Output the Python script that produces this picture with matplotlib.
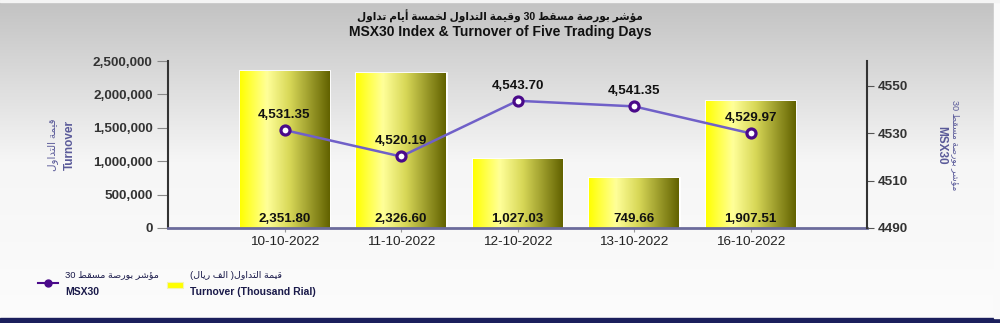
import matplotlib.pyplot as plt
import numpy as np
from matplotlib.ticker import FuncFormatter, FixedLocator
from matplotlib.colors import LinearSegmentedColormap
from matplotlib.lines import Line2D
from matplotlib.patches import Rectangle

dates = ['10-10-2022', '11-10-2022', '12-10-2022', '13-10-2022', '16-10-2022']
turnover = [2351.80, 2326.60, 1027.03, 749.66, 1907.51]   # thousand rial
msx30 = [4531.35, 4520.19, 4543.70, 4541.35, 4529.97]
left_ticks = [0, 500000, 1000000, 1500000, 2000000, 2500000]
right_ticks = [4490, 4510, 4530, 4550]

title_ar = 'مؤشر بورصة مسقط 30 وقيمة التداول لخمسة أيام تداول'
title_en = 'MSX30 Index & Turnover of Five Trading Days'
ylab_left_ar = 'قيمة التداول'
ylab_right_ar = 'مؤشر بورصة مسقط 30'
leg_line_ar = 'مؤشر بورصة مسقط 30'
leg_bar_ar = 'قيمة التداول( الف ريال)'
leg_en = ['MSX30', 'Turnover (Thousand Rial)']

# arabic presentation forms: isolated, final, initial, medial
FORMS = {
    'ا': ('\uFE8D', '\uFE8E', None, None),
    'أ': ('\uFE83', '\uFE84', None, None),
    'ؤ': ('\uFE85', '\uFE86', None, None),
    'ة': ('\uFE93', '\uFE94', None, None),
    'د': ('\uFEA9', '\uFEAA', None, None),
    'ر': ('\uFEAD', '\uFEAE', None, None),
    'و': ('\uFEED', '\uFEEE', None, None),
    'ب': ('\uFE8F', '\uFE90', '\uFE91', '\uFE92'),
    'ت': ('\uFE95', '\uFE96', '\uFE97', '\uFE98'),
    'خ': ('\uFEA5', '\uFEA6', '\uFEA7', '\uFEA8'),
    'س': ('\uFEB1', '\uFEB2', '\uFEB3', '\uFEB4'),
    'ش': ('\uFEB5', '\uFEB6', '\uFEB7', '\uFEB8'),
    'ص': ('\uFEB9', '\uFEBA', '\uFEBB', '\uFEBC'),
    'ط': ('\uFEC1', '\uFEC2', '\uFEC3', '\uFEC4'),
    'ف': ('\uFED1', '\uFED2', '\uFED3', '\uFED4'),
    'ق': ('\uFED5', '\uFED6', '\uFED7', '\uFED8'),
    'ل': ('\uFEDD', '\uFEDE', '\uFEDF', '\uFEE0'),
    'م': ('\uFEE1', '\uFEE2', '\uFEE3', '\uFEE4'),
    'ي': ('\uFEF1', '\uFEF2', '\uFEF3', '\uFEF4'),
}


def shape_word(w):
    out = []
    for i, c in enumerate(w):
        if c not in FORMS:
            out.append(c)
            continue
        prev = w[i - 1] if i > 0 else None
        nxt = w[i + 1] if i + 1 < len(w) else None
        jp = prev in FORMS and FORMS[prev][2] is not None
        jn = FORMS[c][2] is not None and nxt in FORMS
        iso, fin, ini, med = FORMS[c]
        if jp and jn:
            out.append(med)
        elif jp:
            out.append(fin)
        elif jn:
            out.append(ini)
        else:
            out.append(iso)
    return ''.join(out)


def ar(text):
    vis = []
    for w in reversed(text.split(' ')):
        if any(ch in FORMS for ch in w):
            s = shape_word(w)[::-1]
            vis.append(s.translate(str.maketrans('()', ')(')))
        else:
            vis.append(w)
    return ' '.join(vis)


plt.rcParams['font.family'] = ['Liberation Sans', 'DejaVu Sans']
W, H = 1000, 323
fig = plt.figure(figsize=(W / 100, H / 100), dpi=100)

# background gradient
bg = fig.add_axes([0, 0, 1, 1], zorder=-1)
grad = np.linspace(0, 1, 256).reshape(-1, 1)
bg_cmap = LinearSegmentedColormap.from_list('bg', ['#fcfcfc', '#f6f6f6', '#c2c2c2'])
bg.imshow(grad, aspect='auto', extent=[0, 1, 0, 1], cmap=bg_cmap, origin='lower')
bg.axhspan(0, 5 / H, color='#1b1f5c')
bg.axvspan(994 / W, 1, ymin=5 / H, color='#fafafa')
bg.axhspan(1 - 2 / H, 1, color='#f4f4f4')
bg.set_xlim(0, 1)
bg.set_ylim(0, 1)
bg.axis('off')

ax = fig.add_axes([168 / W, (H - 228) / H, 699 / W, 167 / H])
ax.set_facecolor('none')
x = np.arange(len(dates))
vals = np.array(turnover) * 1000
bars = ax.bar(x, vals, width=0.77, color='#ffff00', edgecolor='white', linewidth=2, zorder=2)

bar_cmap = LinearSegmentedColormap.from_list(
    'bar', [(0, '#ffff00'), (0.3, '#ffff99'), (0.55, '#d8d858'), (1, '#626200')])
hgrad = np.linspace(0, 1, 256).reshape(1, -1)
for b in bars:
    im = ax.imshow(hgrad, aspect='auto', cmap=bar_cmap, zorder=2.5,
                   extent=[b.get_x(), b.get_x() + b.get_width(), 0, b.get_height()])
    im.set_clip_path(b)
for b, t in zip(bars, turnover):
    ax.annotate(f'{t:,.2f}', (b.get_x() + b.get_width() / 2, 0), xytext=(0, 2),
                textcoords='offset points', ha='center', va='bottom',
                fontsize=9.6, fontweight='bold', color='#111111', zorder=4)

ax.set_xlim(-1, len(dates))
ax.set_ylim(0, 2500000)
ax.yaxis.set_major_locator(FixedLocator(left_ticks))
ax.yaxis.set_major_formatter(FuncFormatter(lambda v, p: f'{v:,.0f}'))
ax.set_xticks(x)
ax.set_xticklabels(dates, fontsize=9.7, color='#222222')
ax.tick_params(axis='y', length=8, color='#888888', labelsize=9.7, labelcolor='#333333', pad=3)
ax.tick_params(axis='x', length=3, color='#999999', pad=3)
for lab in ax.get_yticklabels():
    lab.set_fontweight('bold')
ax.spines['top'].set_visible(False)
ax.spines['right'].set_visible(False)
ax.spines['left'].set_color('#333333')
ax.spines['left'].set_linewidth(1.5)
ax.spines['bottom'].set_color('#6b6b9b')
ax.spines['bottom'].set_linewidth(2)
ax.spines['bottom'].set_zorder(5)

ax2 = ax.twinx()
ax2.plot(x, msx30, color='#7060c8', lw=1.8, marker='o', ms=6.5, mfc='white',
         mec='#4a0a8a', mew=2.3, zorder=5)
for xi, v in zip(x, msx30):
    ax2.annotate(f'{v:,.2f}', (xi, v), xytext=(0, 6.5), textcoords='offset points',
                 ha='center', va='bottom', fontsize=9.6, fontweight='bold', color='#111111')
ax2.set_ylim(4490, 4560.5)
ax2.yaxis.set_major_locator(FixedLocator(right_ticks))
ax2.tick_params(axis='y', length=5, color='#555555', labelsize=9.7, labelcolor='#333333', pad=3)
for lab in ax2.get_yticklabels():
    lab.set_fontweight('bold')
ax2.spines['top'].set_visible(False)
ax2.spines['left'].set_visible(False)
ax2.spines['bottom'].set_visible(False)
ax2.spines['right'].set_color('#333333')
ax2.spines['right'].set_linewidth(1.5)

lab_col = '#5a5a99'
fig.text(53 / W, 1 - 145 / H, ar(ylab_left_ar), rotation=90, ha='center', va='center',
         fontsize=7.5, color=lab_col)
fig.text(70 / W, 1 - 145 / H, 'Turnover', rotation=90, ha='center', va='center',
         fontsize=8.5, fontweight='bold', color=lab_col)
fig.text(955 / W, 1 - 145 / H, ar(ylab_right_ar), rotation=270, ha='center', va='center',
         fontsize=6.6, color=lab_col)
fig.text(941 / W, 1 - 145 / H, 'MSX30', rotation=270, ha='center', va='center',
         fontsize=8.5, fontweight='bold', color=lab_col)

fig.text(0.5, 1 - 16 / H, ar(title_ar), ha='center', va='center', fontsize=7.6,
         fontweight='bold', color='#111111')
fig.text(0.5, 1 - 32 / H, title_en, ha='center', va='center', fontsize=10,
         fontweight='bold', color='#111111',
         family=['Liberation Sans Narrow', 'Liberation Sans', 'DejaVu Sans'])

# legend keys and two-line labels (arabic over english)
leg_col = '#1a1a4a'
fy = lambda py: 1 - py / H
fig.add_artist(Line2D([38 / W, 58 / W], [fy(283), fy(283)], color='#4a0a8a', lw=1.5))
fig.add_artist(Line2D([48 / W], [fy(283)], color='#4a0a8a', marker='o', ms=5))
fig.add_artist(Rectangle((167 / W, fy(288)), 16 / W, 6 / H, facecolor='#ffff00',
                         edgecolor='#f4f4b0', lw=0.8))
for xl, s_ar, s_en in [(65, leg_line_ar, leg_en[0]), (190, leg_bar_ar, leg_en[1])]:
    fig.text(xl / W, fy(275), ar(s_ar), ha='left', va='center', fontsize=6.8, color=leg_col)
    fig.text(xl / W, fy(292), s_en, ha='left', va='center', fontsize=7.5,
             fontweight='bold', color=leg_col)

fig.savefig('out.png', dpi=100)
